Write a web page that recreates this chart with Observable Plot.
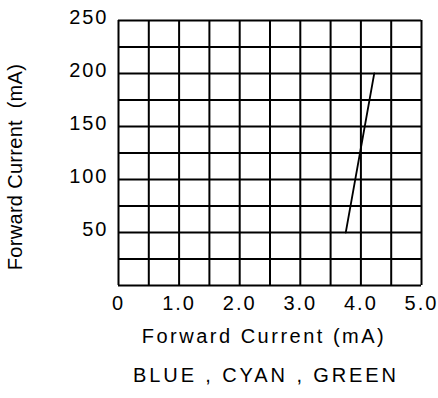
<!DOCTYPE html>
<html>
<head>
<meta charset="utf-8">
<script src="https://cdn.jsdelivr.net/npm/d3@7"></script>
<script src="https://cdn.jsdelivr.net/npm/@observablehq/plot@0.6"></script>
<style>
  body { margin: 0; background: #fff; }
  #chart svg { display: block; font-family: "Liberation Sans", Arial, sans-serif; }
  g[aria-label="x-axis tick label"] text, g[aria-label="y-axis tick label"] text { letter-spacing: 2px; }
  .xtitle text { letter-spacing: 2.5px; }
  .caption text { letter-spacing: 2.9px; }
  .ytitle text { letter-spacing: 0.3px; }
</style>
</head>
<body>
<div id="chart"></div>
<script>
// Data
const xGrid = [0, 0.5, 1, 1.5, 2, 2.5, 3, 3.5, 4, 4.5, 5];
const yGrid = [0, 25, 50, 75, 100, 125, 150, 175, 200, 225, 250];
const xTicks = [0, 1, 2, 3, 4, 5];
const xTickLabels = ["0", "1.0", "2.0", "3.0", "4.0", "5.0"];
const yTicks = [50, 100, 150, 200, 250];
const yTickLabels = ["50", "100", "150", "200", "250"];
const lineX = [3.75, 4.22];   // forward current (mA) axis
const lineY = [50, 200];      // forward current (mA)
const xTitle = "Forward Current (mA)";
const yTitle = "Forward Current  (mA)";
const caption = "BLUE , CYAN , GREEN";

const lineData = lineX.map((x, i) => ({x, y: lineY[i]}));

const chart = Plot.plot({
  width: 438,
  height: 398,
  marginLeft: 118,
  marginRight: 17,
  marginTop: 20,
  marginBottom: 113,
  style: {fontFamily: '"Liberation Sans", Arial, sans-serif', background: "#fff"},
  x: {domain: [0, 5]},
  y: {domain: [0, 250]},
  marks: [
    Plot.ruleX(xGrid, {stroke: "#000", strokeWidth: 2, strokeOpacity: 1}),
    Plot.ruleY(yGrid, {stroke: "#000", strokeWidth: 2, strokeOpacity: 1}),
    Plot.line(lineData, {x: "x", y: "y", stroke: "#000", strokeWidth: 1.8}),
    Plot.axisX(xTicks, {tickSize: 0, tickPadding: 10, fontSize: 20, fill: "#000",
      tickFormat: (d) => xTickLabels[xTicks.indexOf(d)], label: null}),
    Plot.axisY(yTicks, {tickSize: 0, tickPadding: 10, fontSize: 20, fill: "#000", dy: -3,
      tickFormat: (d) => yTickLabels[yTicks.indexOf(d)], label: null}),
    Plot.text([xTitle], {text: d => d, frameAnchor: "bottom", dy: 57, dx: -6, fontSize: 20, fill: "#000", className: "xtitle"}),
    Plot.text([caption], {text: d => d, frameAnchor: "bottom", dy: 96, dx: -4, fontSize: 20, fill: "#000", className: "caption"}),
    Plot.text([yTitle], {text: d => d, frameAnchor: "left", textAnchor: "middle", rotate: -90, dx: -103, dy: 14, fontSize: 20, fill: "#000", className: "ytitle"})
  ]
});
document.getElementById("chart").appendChild(chart);
</script>
</body>
</html>
